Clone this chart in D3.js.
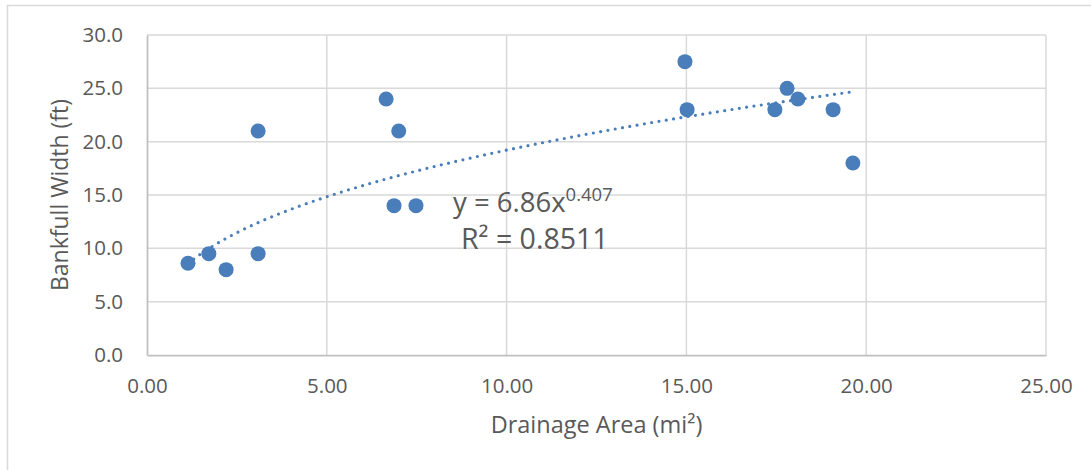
<!DOCTYPE html>
<html>
<head>
<meta charset="utf-8">
<script src="https://cdn.jsdelivr.net/npm/d3@7"></script>
<style>
  html, body { margin: 0; padding: 0; background: #fff; }
  svg { display: block; }
  text { font-family: "Open Sans", "Liberation Sans", sans-serif; fill: #595959; }
</style>
</head>
<body>
<svg id="chart" width="1091" height="470"></svg>
<script>
// ---- Data ----
const drainageArea  = [1.14, 1.72, 2.2, 3.09, 3.09, 6.65, 6.87, 7.0, 7.48, 14.96, 15.02, 17.46, 17.8, 18.1, 19.08, 19.63];
const bankfullWidth = [8.6, 9.5, 8.0, 9.5, 21.0, 24.0, 14.0, 21.0, 14.0, 27.5, 23.0, 23.0, 25.0, 24.0, 23.0, 18.0];
const xTicks = [0, 5, 10, 15, 20, 25];
const yTicks = [0, 5, 10, 15, 20, 25, 30];
const xTitle = "Drainage Area (mi";
const yTitle = "Bankfull Width (ft)";
const eqMain = "y = 6.86x";
const eqExp = "0.407";
const r2Label = "R² = 0.8511";

// ---- Layout ----
const svg = d3.select("#chart");
const plot = { left: 147, right: 1046, top: 35, bottom: 355 };
const blue = "#4a7ebb";

const x = d3.scaleLinear().domain([0, 25]).range([plot.left, plot.right]);
const y = d3.scaleLinear().domain([0, 30]).range([plot.bottom, plot.top]);

// outer chart border (only top/left visible in frame)
svg.append("rect")
  .attr("x", 7.5).attr("y", 5.5)
  .attr("width", 1200).attr("height", 600)
  .attr("fill", "none").attr("stroke", "#d9d9d9").attr("stroke-width", 1.5);

// gridlines
const grid = svg.append("g");
grid.selectAll(".hg").data(yTicks.filter(d => d > 0)).enter().append("line")
  .attr("x1", plot.left).attr("x2", plot.right)
  .attr("y1", d => y(d)).attr("y2", d => y(d))
  .attr("stroke", "#d9d9d9").attr("stroke-width", 1.5);
grid.selectAll(".vg").data(xTicks.filter(d => d > 0)).enter().append("line")
  .attr("y1", plot.top).attr("y2", plot.bottom)
  .attr("x1", d => x(d)).attr("x2", d => x(d))
  .attr("stroke", "#d9d9d9").attr("stroke-width", 1.5);

// axes via d3 axis generators
const xAxis = d3.axisBottom(x).tickValues(xTicks).tickFormat(d3.format(".2f")).tickSize(0).tickPadding(23);
const yAxis = d3.axisLeft(y).tickValues(yTicks).tickFormat(d3.format(".1f")).tickSize(0).tickPadding(24);

const gx = svg.append("g").attr("transform", `translate(0,${plot.bottom})`).call(xAxis);
const gy = svg.append("g").attr("transform", `translate(${plot.left},0)`).call(yAxis);
[gx, gy].forEach(g => {
  g.select(".domain").attr("stroke", "#bfbfbf").attr("stroke-width", 1.75);
  g.selectAll("text").attr("font-size", 20.5).attr("fill", "#595959")
    .attr("font-family", "\"Open Sans\", sans-serif");
});

// points
svg.append("g").selectAll("circle").data(drainageArea.map((d, i) => [d, bankfullWidth[i]]))
  .enter().append("circle")
  .attr("cx", d => x(d[0])).attr("cy", d => y(d[1]))
  .attr("r", 7.5).attr("fill", blue);

// power trendline: least squares in log-log space (as Excel computes it)
const lx = drainageArea.map(Math.log), ly = bankfullWidth.map(Math.log);
const mx = d3.mean(lx), my = d3.mean(ly);
const b = d3.sum(lx.map((v, i) => (v - mx) * (ly[i] - my))) / d3.sum(lx.map(v => (v - mx) ** 2));
const a = Math.exp(my - b * mx);
const x0 = d3.min(drainageArea), x1 = d3.max(drainageArea);
const trend = d3.range(0, 201).map(i => x0 + (x1 - x0) * i / 200).map(v => [v, a * Math.pow(v, b)]);
svg.append("path")
  .datum(trend)
  .attr("d", d3.line().x(d => x(d[0])).y(d => y(d[1])))
  .attr("fill", "none").attr("stroke", blue).attr("stroke-width", 3.2)
  .attr("stroke-linecap", "round").attr("stroke-dasharray", "0 7.4");

// trendline label
const eq = svg.append("text").attr("x", 453).attr("y", 212).attr("font-size", 27.5);
eq.append("tspan").text(eqMain);
eq.append("tspan").attr("font-size", 18.5).attr("dy", -11).text(eqExp);
svg.append("text").attr("x", 461).attr("y", 249).attr("font-size", 28.5).text(r2Label);

// axis titles
const xt = svg.append("text").attr("x", (plot.left + plot.right) / 2).attr("y", 433)
  .attr("text-anchor", "middle").attr("font-size", 23.5);
xt.append("tspan").text(xTitle);
xt.append("tspan").text("²");
xt.append("tspan").text(")");

svg.append("text")
  .attr("transform", `translate(68,${(plot.top + plot.bottom) / 2}) rotate(-90)`)
  .attr("text-anchor", "middle").attr("font-size", 23)
  .text(yTitle);
</script>
</body>
</html>
